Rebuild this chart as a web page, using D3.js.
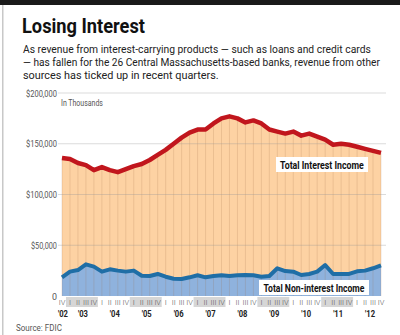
<!DOCTYPE html>
<html>
<head>
<meta charset="utf-8">
<script src="https://cdn.jsdelivr.net/npm/d3@7"></script>
<style>
  body { margin: 0; background: #fff; }
  svg { display: block; }
</style>
</head>
<body>
<div id="chart"></div>
<script>
// Quarterly income, Central Mass. banks, in thousands ($), Q4 2002 - Q4 2012
var quarters = ["IV",
  "I","II","III","IV", "I","II","III","IV", "I","II","III","IV", "I","II","III","IV", "I","II","III","IV",
  "I","II","III","IV", "I","II","III","IV", "I","II","III","IV", "I","II","III","IV", "I","II","III","IV"];
var interestIncome = [136, 135, 131, 129, 124, 127, 124, 122, 125, 128, 130, 134, 139, 144, 150, 156,
  161, 164, 164, 170, 175, 177, 175, 171, 173, 170, 164, 162, 160, 162, 158, 160, 157, 154, 149,
  150, 149, 147, 145, 143, 141];
var nonInterestIncome = [18.4, 24, 25.6, 31.2, 28.9, 24, 26.3, 25, 24, 25, 20, 19.7, 21.7, 19, 17, 16.7,
  18.4, 20.4, 18.4, 19.7, 20.4, 19.7, 20.4, 20.7, 20.4, 19, 19.7, 27.3, 24.6, 24, 20.7, 21.7, 24,
  30.5, 21.7, 21.7, 21.7, 24.3, 25, 27.3, 30.2];
var yTicks = [0, 50, 100, 150, 200];
var yearLabels = ["'02", "'03", "'04", "'05", "'06", "'07", "'08", "'09", "'10", "'11", "'12"];
var shadedYears = ["'03", "'05", "'07", "'09", "'11"];

var svgWidth = 400;
var svgHeight = 335;
var font = "'Roboto', 'Liberation Sans', sans-serif";

var svg = d3.select("#chart")
  .append("svg")
  .attr("width", svgWidth)
  .attr("height", svgHeight);

// squeeze a text horizontally (the original uses a condensed face)
// anchor: "start", "middle" or "end"
function squeeze(g, str, px, py, w, anchor) {
  var t = g.append("text").attr("x", 0).attr("y", 0).text(str);
  var k = Math.min(1, w / t.node().getComputedTextLength());
  var shift = anchor === "end" ? -w : anchor === "middle" ? -w / 2 : 0;
  t.attr("transform", `translate(${px + shift}, ${py}) scale(${k}, 1)`);
  return t;
}

// frame: black bar on top, grey rule on the left
svg.append("rect").attr("x", 0).attr("y", 0).attr("width", svgWidth).attr("height", 5).attr("fill", "#1a1a1a");
svg.append("rect").attr("x", 2).attr("y", 5).attr("width", 1.5).attr("height", svgHeight - 5).attr("fill", "#c8c8c8");

// title + subtitle
var titleG = svg.append("g")
  .style("font-family", font)
  .style("font-weight", "bold")
  .style("font-size", "21px")
  .attr("fill", "#111");
squeeze(titleG, "Losing Interest", 22, 33, 123, "start");

var subLines = [
  ["As revenue from interest-carrying products \u2014 such as loans and credit cards", 348],
  ["\u2014 has fallen for the 26 Central Massachusetts-based banks, revenue from other", 357],
  ["sources has ticked up in recent quarters.", 196]
];
var subG = svg.append("g")
  .style("font-family", font)
  .style("font-size", "11px")
  .attr("fill", "#222");
subLines.forEach(function (l, i) {
  squeeze(subG, l[0], 23, 53 + i * 13.2, l[1], "start");
});

// scales
var x = d3.scaleLinear().domain([0, quarters.length - 1]).range([62, 381]);
var y = d3.scaleLinear().domain([0, 200]).range([296, 93]);

// horizontal grid + y labels
var grid = svg.append("g");
var yLab = svg.append("g")
  .style("font-family", font)
  .style("font-size", "9.5px")
  .attr("fill", "#555");
yTicks.forEach(function (d) {
  var s = d === 0 ? "0" : "$" + d3.format(",")(d * 1000);
  var w = d === 0 ? 5 : (d >= 100 ? 31 : 26);
  squeeze(yLab, s, 57, y(d) + 3.5, w, "end");
});

var noteG = svg.append("g")
  .style("font-family", font)
  .style("font-size", "9px")
  .attr("fill", "#555");
squeeze(noteG, "In Thousands", 61, 106, 42, "start");

// areas
var incomeArea = d3.area().x((d, i) => x(i)).y0(y(0)).y1((d) => y(d));
svg.append("path")
  .datum(interestIncome)
  .attr("d", incomeArea)
  .attr("fill", "#fdd2a3");

svg.append("path")
  .datum(nonInterestIncome)
  .attr("d", incomeArea)
  .attr("fill", "#8fb2dd");

// vertical quarter lines inside the area
svg.append("g").selectAll("line")
  .data(interestIncome).enter()
  .append("line")
  .attr("x1", (d, i) => x(i)).attr("x2", (d, i) => x(i))
  .attr("y1", y(0)).attr("y2", (d) => y(d))
  .attr("stroke", "#9a6a40")
  .attr("stroke-opacity", 0.18)
  .attr("stroke-width", 1);

grid.raise();
grid.selectAll("line")
  .data(yTicks.filter((d) => d > 0)).enter()
  .append("line")
  .attr("x1", 58).attr("x2", 386)
  .attr("y1", (d) => y(d)).attr("y2", (d) => y(d))
  .attr("stroke", "#999")
  .attr("stroke-opacity", 0.35)
  .attr("stroke-width", 1);

// lines
var line = d3.line().x((d, i) => x(i)).y((d) => y(d));
svg.append("path")
  .datum(interestIncome)
  .attr("d", line)
  .attr("fill", "none")
  .attr("stroke", "#c1161d")
  .attr("stroke-width", 4.5)
  .attr("stroke-linejoin", "round");

svg.append("path")
  .datum(nonInterestIncome)
  .attr("d", line)
  .attr("fill", "none")
  .attr("stroke", "#1f6ea6")
  .attr("stroke-width", 4)
  .attr("stroke-linejoin", "round");

// series labels
function seriesLabel(txt, cx, cy, w, tw) {
  var g = svg.append("g")
    .style("font-family", font)
    .style("font-weight", "bold")
    .style("font-size", "11px")
    .attr("fill", "#111");
  g.append("rect")
    .attr("x", cx - w / 2).attr("y", cy - 8)
    .attr("width", w).attr("height", 15)
    .attr("fill", "#fff");
  squeeze(g, txt, cx, cy + 4, tw, "middle");
}
seriesLabel("Total Interest Income", 322, 165, 92, 84);
seriesLabel("Total Non-interest Income", 314, 288, 110, 101);

// quarter row with shaded alternate years
var qRow = svg.append("g");
var yearG = svg.append("g")
  .style("font-family", font)
  .style("font-weight", "bold")
  .style("font-size", "9.5px")
  .attr("fill", "#222");
yearLabels.forEach(function (yr, k) {
  var first = k === 0 ? 0 : 1 + (k - 1) * 4;
  var last = k === 0 ? 0 : first + 3;
  if (shadedYears.indexOf(yr) >= 0) {
    qRow.append("rect")
      .attr("x", x(first) - 4).attr("y", 297)
      .attr("width", x(last) - x(first) + 8).attr("height", 10)
      .attr("fill", "#d6d6d6");
  }
  squeeze(yearG, yr, (x(first) + x(last)) / 2 + 1, 317, 10, "middle");
});

qRow.selectAll("text.q")
  .data(quarters).enter()
  .append("text")
  .attr("class", "q")
  .attr("x", (d, i) => x(i))
  .attr("y", 305)
  .attr("text-anchor", "middle")
  .style("font-family", font)
  .style("font-weight", "300")
  .style("font-size", "7.5px")
  .attr("fill", "#555")
  .text((d) => d);

// source
var srcG = svg.append("g")
  .style("font-family", font)
  .style("font-size", "9.5px")
  .attr("fill", "#555");
squeeze(srcG, "Source: FDIC", 16, 331, 46, "start");
</script>
</body>
</html>
